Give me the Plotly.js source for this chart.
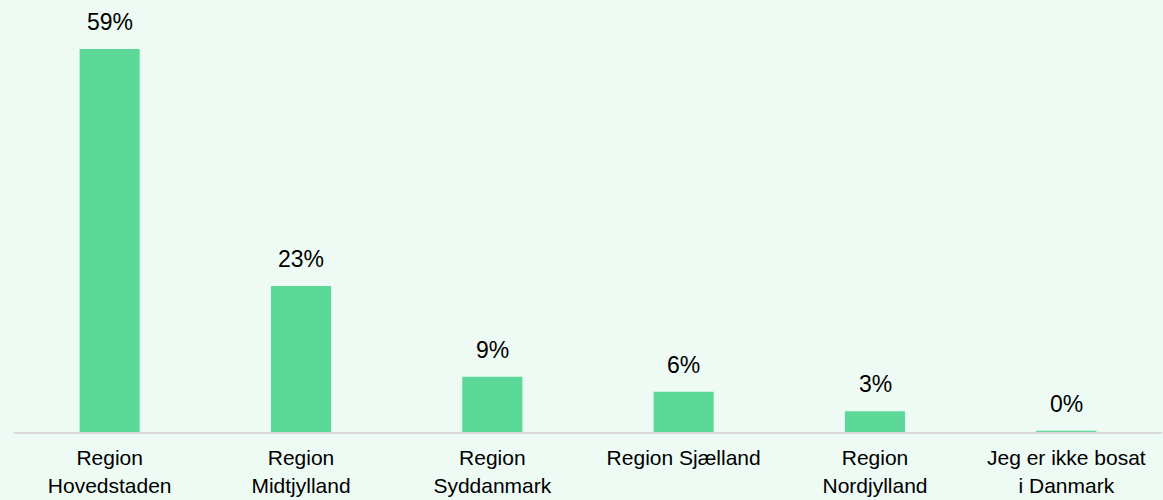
<!DOCTYPE html>
<html>
<head>
<meta charset="utf-8">
<script src="https://cdn.plot.ly/plotly-3.0.1.min.js"></script>
<style>
html,body{margin:0;padding:0;background:#EEFAF4;}
#chart{width:1163px;height:500px;}
</style>
</head>
<body>
<div id="chart"></div>
<script>
const categories = ["Region Hovedstaden", "Region Midtjylland", "Region Syddanmark", "Region Sjælland", "Region Nordjylland", "Jeg er ikke bosat i Danmark"];
const tickLabels = ["Region<br>Hovedstaden", "Region<br>Midtjylland", "Region<br>Syddanmark", "Region Sjælland", "Region<br>Nordjylland", "Jeg er ikke bosat<br>i Danmark"];
const values = [59, 22.5, 8.5, 6.2, 3.2, 0.2];
const valueLabels = ["59%", "23%", "9%", "6%", "3%", "0%"];

const trace = {
  type: "bar",
  x: categories,
  y: values,
  marker: {color: "#5CD899"},
  hoverinfo: "skip"
};

const annotations = categories.map((c, i) => ({
  x: c, y: values[i], xref: "x", yref: "y",
  text: valueLabels[i], showarrow: false,
  yanchor: "bottom", yshift: 12,
  font: {family: "Liberation Sans, Arial, sans-serif", size: 23, color: "#000000"}
}));

const layout = {
  width: 1163, height: 500,
  paper_bgcolor: "#EEFAF4", plot_bgcolor: "#EEFAF4",
  margin: {l: 14, r: 1, t: 10, b: 68},
  bargap: 0.686,
  showlegend: false,
  font: {family: "Liberation Sans, Arial, sans-serif", size: 22, color: "#000000"},
  xaxis: {
    type: "category",
    tickmode: "array", tickvals: categories, ticktext: tickLabels,
    showline: true, linecolor: "#D9D9D9", linewidth: 2,
    showgrid: false, zeroline: false, ticks: "",
    ticklabelstandoff: 6,
    tickfont: {size: 21, color: "#000000"},
    fixedrange: true
  },
  yaxis: {
    range: [0, 65], visible: false, showgrid: false, zeroline: false, fixedrange: true
  },
  annotations: annotations
};

Plotly.newPlot("chart", [trace], layout, {displayModeBar: false, staticPlot: true});
</script>
</body>
</html>
